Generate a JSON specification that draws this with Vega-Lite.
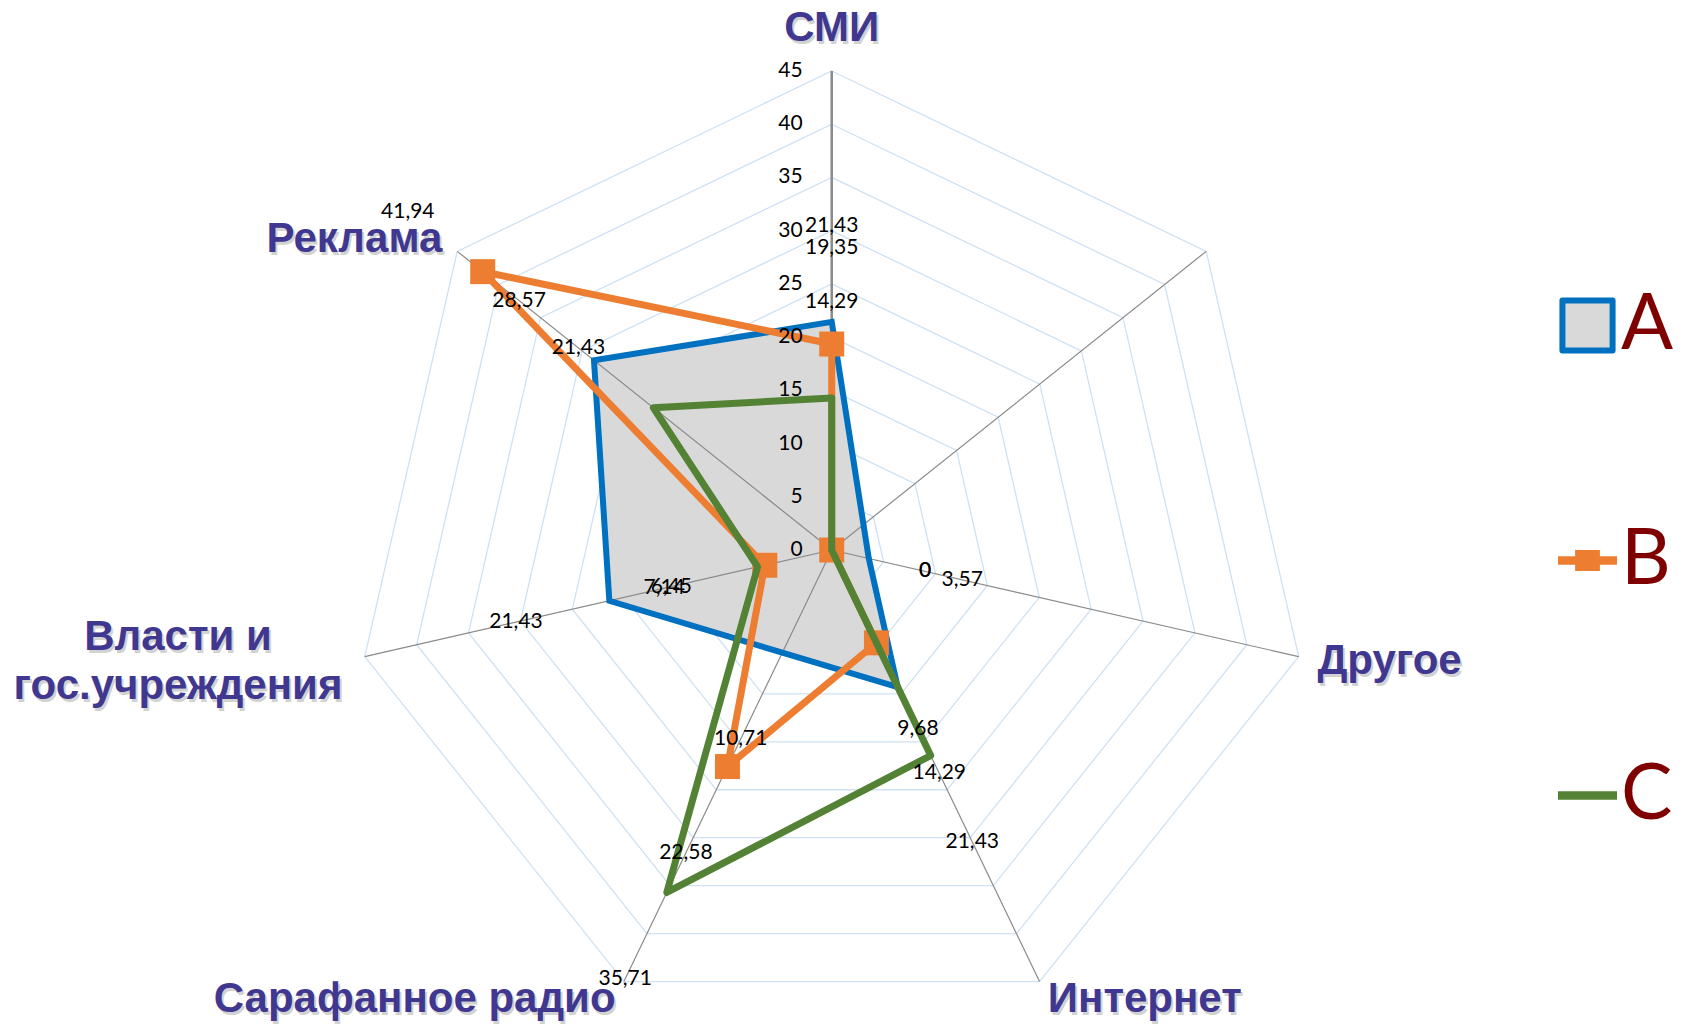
{
  "$schema": "https://vega.github.io/schema/vega-lite/v6.json",
  "width": 1684,
  "height": 1024,
  "autosize": "none",
  "padding": 0,
  "background": "white",
  "config": {"view": {"stroke": null}},
  "datasets": {
    "series": [
      {"series": "A", "category": "СМИ", "value": 21.43},
      {"series": "A", "category": "Другое", "value": 3.57},
      {"series": "A", "category": "Интернет", "value": 14.29},
      {"series": "A", "category": "Сарафанное радио", "value": 10.71},
      {"series": "A", "category": "Власти и гос.учреждения", "value": 21.43},
      {"series": "A", "category": "Реклама", "value": 28.57},
      {"series": "B", "category": "СМИ", "value": 19.35},
      {"series": "B", "category": "Другое", "value": 0},
      {"series": "B", "category": "Интернет", "value": 9.68},
      {"series": "B", "category": "Сарафанное радио", "value": 22.58},
      {"series": "B", "category": "Власти и гос.учреждения", "value": 6.45},
      {"series": "B", "category": "Реклама", "value": 41.94},
      {"series": "C", "category": "СМИ", "value": 14.29},
      {"series": "C", "category": "Другое", "value": 0},
      {"series": "C", "category": "Интернет", "value": 21.43},
      {"series": "C", "category": "Сарафанное радио", "value": 35.71},
      {"series": "C", "category": "Власти и гос.учреждения", "value": 7.14},
      {"series": "C", "category": "Реклама", "value": 21.43}
    ],
    "axes": [
      {"category": "СМИ", "levels": [5, 10, 15, 20, 25, 30, 35, 40, 45]},
      {"category": "", "levels": [5, 10, 15, 20, 25, 30, 35, 40, 45]},
      {"category": "Другое", "levels": [5, 10, 15, 20, 25, 30, 35, 40, 45]},
      {"category": "Интернет", "levels": [5, 10, 15, 20, 25, 30, 35, 40, 45]},
      {"category": "Сарафанное радио", "levels": [5, 10, 15, 20, 25, 30, 35, 40, 45]},
      {"category": "Власти и гос.учреждения", "levels": [5, 10, 15, 20, 25, 30, 35, 40, 45]},
      {"category": "Реклама", "levels": [5, 10, 15, 20, 25, 30, 35, 40, 45]}
    ],
    "ticks": [
      {"t": 0}, {"t": 5}, {"t": 10}, {"t": 15}, {"t": 20}, {"t": 25}, {"t": 30}, {"t": 35}, {"t": 40}, {"t": 45}
    ]
  },
  "encoding": {
    "x": {"field": "x", "type": "quantitative", "scale": {"domain": [-78.14, 80.07], "nice": false, "zero": false}, "axis": null},
    "y": {"field": "y", "type": "quantitative", "scale": {"domain": [-44.53, 51.67], "nice": false, "zero": false}, "axis": null}
  },
  "layer": [
    {
      "data": {"name": "axes"},
      "transform": [
        {"flatten": ["levels"], "as": ["level"]},
        {"calculate": "indexof(['СМИ','','Другое','Интернет','Сарафанное радио','Власти и гос.учреждения','Реклама'], datum.category)", "as": "idx"},
        {"calculate": "PI/2 - datum.idx*2*PI/7", "as": "ang"},
        {"calculate": "datum.level*cos(datum.ang)", "as": "x"},
        {"calculate": "datum.level*sin(datum.ang)", "as": "y"}
      ],
      "mark": {"type": "line", "interpolate": "linear-closed", "stroke": "#cfe1f2", "strokeWidth": 1.3},
      "encoding": {"detail": {"field": "level", "type": "nominal"}, "order": {"field": "idx", "type": "quantitative"}}
    },
    {
      "data": {"name": "series"},
      "transform": [
        {"filter": "datum.series === 'A'"},
        {"calculate": "indexof(['СМИ','','Другое','Интернет','Сарафанное радио','Власти и гос.учреждения','Реклама'], datum.category)", "as": "idx"},
        {"calculate": "PI/2 - datum.idx*2*PI/7", "as": "ang"},
        {"calculate": "datum.value*cos(datum.ang)", "as": "x"},
        {"calculate": "datum.value*sin(datum.ang)", "as": "y"}
      ],
      "mark": {"type": "line", "interpolate": "linear-closed", "fill": "#d9d9d9", "stroke": "#d9d9d9", "strokeWidth": 0, "strokeOpacity": 0},
      "encoding": {"order": {"field": "idx", "type": "quantitative"}}
    },
    {
      "data": {"name": "axes"},
      "transform": [
        {"calculate": "indexof(['СМИ','','Другое','Интернет','Сарафанное радио','Власти и гос.учреждения','Реклама'], datum.category)", "as": "idx"},
        {"calculate": "PI/2 - datum.idx*2*PI/7", "as": "ang"},
        {"calculate": "45*cos(datum.ang)", "as": "x"},
        {"calculate": "45*sin(datum.ang)", "as": "y"}
      ],
      "mark": {"type": "rule", "color": "#8a8a8a"},
      "encoding": {
        "x2": {"datum": 0},
        "y2": {"datum": 0},
        "strokeWidth": {"condition": {"test": "datum.category === 'СМИ'", "value": 2.5}, "value": 1.2}
      }
    },
    {
      "data": {"name": "series"},
      "transform": [
        {"filter": "datum.series === 'A'"},
        {"calculate": "indexof(['СМИ','','Другое','Интернет','Сарафанное радио','Власти и гос.учреждения','Реклама'], datum.category)", "as": "idx"},
        {"calculate": "PI/2 - datum.idx*2*PI/7", "as": "ang"},
        {"calculate": "datum.value*cos(datum.ang)", "as": "x"},
        {"calculate": "datum.value*sin(datum.ang)", "as": "y"}
      ],
      "mark": {"type": "line", "interpolate": "linear-closed", "strokeWidth": 6, "strokeJoin": "miter"},
      "encoding": {
        "order": {"field": "idx", "type": "quantitative"},
        "stroke": {
          "field": "series", "type": "nominal",
          "scale": {"domain": ["A", "B", "C"], "range": ["#0070c0", "#ed7d31", "#548235"]},
          "legend": {
            "title": null,
            "orient": "none",
            "legendX": 1549,
            "legendY": 287,
            "direction": "vertical",
            "padding": 0,
            "symbolSize": 3481,
            "symbolStrokeWidth": 6,
            "labelFontSize": 77,
            "labelFont": "Lato",
            "labelColor": "#7f0000",
            "labelOffset": -5,
            "rowPadding": 157,
            "encode": {
              "symbols": {
                "update": {
                  "shape": {"signal": "datum.value === 'A' ? 'M-0.85,-0.85H0.85V0.85H-0.85Z' : datum.value === 'B' ? 'M-1,-0.14H1V0.14H-1Z M-0.42,-0.36H0.42V0.36H-0.42Z' : 'M-1,-0.14H1V0.14H-1Z'"},
                  "fill": {"signal": "datum.value === 'A' ? '#d9d9d9' : datum.value === 'B' ? '#ed7d31' : '#548235'"},
                  "stroke": {"signal": "datum.value === 'A' ? '#0070c0' : 'transparent'"},
                  "strokeWidth": {"signal": "datum.value === 'A' ? 6 : 0"},
                  "strokeJoin": {"value": "round"},
                  "size": {"value": 3481},
                  "opacity": {"value": 1},
                  "fillOpacity": {"value": 1}
                }
              }
            }
          }
        }
      }
    },
    {
      "data": {"name": "series"},
      "transform": [
        {"filter": "datum.series === 'B'"},
        {"calculate": "indexof(['СМИ','','Другое','Интернет','Сарафанное радио','Власти и гос.учреждения','Реклама'], datum.category)", "as": "idx"},
        {"calculate": "PI/2 - datum.idx*2*PI/7", "as": "ang"},
        {"calculate": "datum.value*cos(datum.ang)", "as": "x"},
        {"calculate": "datum.value*sin(datum.ang)", "as": "y"}
      ],
      "mark": {"type": "line", "interpolate": "linear-closed", "strokeWidth": 7, "strokeJoin": "round"},
      "encoding": {
        "order": {"field": "idx", "type": "quantitative"},
        "stroke": {"field": "series", "type": "nominal"}
      }
    },
    {
      "data": {"name": "series"},
      "transform": [
        {"filter": "datum.series === 'B'"},
        {"calculate": "indexof(['СМИ','','Другое','Интернет','Сарафанное радио','Власти и гос.учреждения','Реклама'], datum.category)", "as": "idx"},
        {"calculate": "PI/2 - datum.idx*2*PI/7", "as": "ang"},
        {"calculate": "datum.value*cos(datum.ang)", "as": "x"},
        {"calculate": "datum.value*sin(datum.ang)", "as": "y"}
      ],
      "mark": {"type": "square", "size": 625, "color": "#ed7d31", "opacity": 1, "filled": true}
    },
    {
      "data": {"name": "series"},
      "transform": [
        {"filter": "datum.series === 'C'"},
        {"calculate": "indexof(['СМИ','','Другое','Интернет','Сарафанное радио','Власти и гос.учреждения','Реклама'], datum.category)", "as": "idx"},
        {"calculate": "PI/2 - datum.idx*2*PI/7", "as": "ang"},
        {"calculate": "datum.value*cos(datum.ang)", "as": "x"},
        {"calculate": "datum.value*sin(datum.ang)", "as": "y"}
      ],
      "mark": {"type": "line", "interpolate": "linear-closed", "strokeWidth": 7, "strokeJoin": "round"},
      "encoding": {
        "order": {"field": "idx", "type": "quantitative"},
        "stroke": {"field": "series", "type": "nominal"}
      }
    },
    {
      "data": {"name": "ticks"},
      "transform": [
        {"calculate": "0", "as": "x"},
        {"calculate": "datum.t", "as": "y"}
      ],
      "mark": {"type": "text", "align": "right", "baseline": "middle", "dx": -29, "font": "Lato", "fontSize": 21, "color": "#000000"},
      "encoding": {"text": {"field": "t", "type": "quantitative"}}
    },
    {
      "data": {"name": "series"},
      "transform": [
        {"calculate": "indexof(['СМИ','','Другое','Интернет','Сарафанное радио','Власти и гос.учреждения','Реклама'], datum.category)", "as": "idx"},
        {"calculate": "PI/2 - datum.idx*2*PI/7", "as": "ang"},
        {"calculate": "(datum.value + 9)*cos(datum.ang)", "as": "x"},
        {"calculate": "(datum.value + 9)*sin(datum.ang)", "as": "y"},
        {"calculate": "replace(toString(datum.value), '.', ',')", "as": "lab"}
      ],
      "mark": {"type": "text", "align": "center", "baseline": "middle", "font": "Lato", "fontSize": 21, "color": "#000000"},
      "encoding": {"text": {"field": "lab", "type": "nominal"}}
    },
    {
      "data": {"name": "axes"},
      "transform": [
        {"filter": "datum.category === 'Реклама' || datum.category === 'Сарафанное радио'"},
        {"calculate": "indexof(['СМИ','','Другое','Интернет','Сарафанное радио','Власти и гос.учреждения','Реклама'], datum.category)", "as": "idx"},
        {"calculate": "PI/2 - datum.idx*2*PI/7", "as": "ang"},
        {"calculate": "46.8*cos(datum.ang)", "as": "x"},
        {"calculate": "46.8*sin(datum.ang)", "as": "y"}
      ],
      "mark": {"type": "text", "align": "right", "baseline": "middle", "dx": 2, "dy": 3, "font": "Liberation Sans", "fontWeight": "bold", "fontSize": 42, "color": "#808080", "opacity": 0.35},
      "encoding": {"text": {"field": "category", "type": "nominal"}}
    },
    {
      "data": {"name": "axes"},
      "transform": [
        {"filter": "datum.category === 'Реклама' || datum.category === 'Сарафанное радио'"},
        {"calculate": "indexof(['СМИ','','Другое','Интернет','Сарафанное радио','Власти и гос.учреждения','Реклама'], datum.category)", "as": "idx"},
        {"calculate": "PI/2 - datum.idx*2*PI/7", "as": "ang"},
        {"calculate": "46.8*cos(datum.ang)", "as": "x"},
        {"calculate": "46.8*sin(datum.ang)", "as": "y"}
      ],
      "mark": {"type": "text", "align": "right", "baseline": "middle", "font": "Liberation Sans", "fontWeight": "bold", "fontSize": 42, "color": "#3f3790"},
      "encoding": {"text": {"field": "category", "type": "nominal"}}
    },
    {
      "data": {"name": "axes"},
      "transform": [
        {"filter": "datum.category === 'Другое' || datum.category === 'Интернет'"},
        {"calculate": "indexof(['СМИ','','Другое','Интернет','Сарафанное радио','Власти и гос.учреждения','Реклама'], datum.category)", "as": "idx"},
        {"calculate": "PI/2 - datum.idx*2*PI/7", "as": "ang"},
        {"calculate": "46.8*cos(datum.ang)", "as": "x"},
        {"calculate": "46.8*sin(datum.ang)", "as": "y"}
      ],
      "mark": {"type": "text", "align": "left", "baseline": "middle", "dx": 2, "dy": 3, "font": "Liberation Sans", "fontWeight": "bold", "fontSize": 42, "color": "#808080", "opacity": 0.35},
      "encoding": {"text": {"field": "category", "type": "nominal"}}
    },
    {
      "data": {"name": "axes"},
      "transform": [
        {"filter": "datum.category === 'Другое' || datum.category === 'Интернет'"},
        {"calculate": "indexof(['СМИ','','Другое','Интернет','Сарафанное радио','Власти и гос.учреждения','Реклама'], datum.category)", "as": "idx"},
        {"calculate": "PI/2 - datum.idx*2*PI/7", "as": "ang"},
        {"calculate": "46.8*cos(datum.ang)", "as": "x"},
        {"calculate": "46.8*sin(datum.ang)", "as": "y"}
      ],
      "mark": {"type": "text", "align": "left", "baseline": "middle", "font": "Liberation Sans", "fontWeight": "bold", "fontSize": 42, "color": "#3f3790"},
      "encoding": {"text": {"field": "category", "type": "nominal"}}
    },
    {
      "data": {"name": "axes"},
      "transform": [
        {"filter": "datum.category === 'СМИ'"},
        {"calculate": "indexof(['СМИ','','Другое','Интернет','Сарафанное радио','Власти и гос.учреждения','Реклама'], datum.category)", "as": "idx"},
        {"calculate": "PI/2 - datum.idx*2*PI/7", "as": "ang"},
        {"calculate": "47.8*cos(datum.ang)", "as": "x"},
        {"calculate": "47.8*sin(datum.ang)", "as": "y"}
      ],
      "mark": {"type": "text", "align": "center", "baseline": "alphabetic", "dx": 2, "dy": 3, "font": "Liberation Sans", "fontWeight": "bold", "fontSize": 42, "color": "#808080", "opacity": 0.35},
      "encoding": {"text": {"field": "category", "type": "nominal"}}
    },
    {
      "data": {"name": "axes"},
      "transform": [
        {"filter": "datum.category === 'СМИ'"},
        {"calculate": "indexof(['СМИ','','Другое','Интернет','Сарафанное радио','Власти и гос.учреждения','Реклама'], datum.category)", "as": "idx"},
        {"calculate": "PI/2 - datum.idx*2*PI/7", "as": "ang"},
        {"calculate": "47.8*cos(datum.ang)", "as": "x"},
        {"calculate": "47.8*sin(datum.ang)", "as": "y"}
      ],
      "mark": {"type": "text", "align": "center", "baseline": "alphabetic", "font": "Liberation Sans", "fontWeight": "bold", "fontSize": 42, "color": "#3f3790"},
      "encoding": {"text": {"field": "category", "type": "nominal"}}
    },
    {
      "data": {"name": "axes"},
      "transform": [
        {"filter": "datum.category === 'Власти и гос.учреждения'"},
        {"calculate": "indexof(['СМИ','','Другое','Интернет','Сарафанное радио','Власти и гос.учреждения','Реклама'], datum.category)", "as": "idx"},
        {"calculate": "PI/2 - datum.idx*2*PI/7", "as": "ang"},
        {"calculate": "47*cos(datum.ang)", "as": "x"},
        {"calculate": "47*sin(datum.ang)", "as": "y"},
        {"calculate": "replace(datum.category, 'и гос', 'и\\nгос')", "as": "lab"}
      ],
      "mark": {"type": "text", "align": "center", "baseline": "middle", "dx": -164, "dy": -21, "lineBreak": "\n", "lineHeight": 49, "font": "Liberation Sans", "fontWeight": "bold", "fontSize": 42, "color": "#808080", "opacity": 0.35},
      "encoding": {"text": {"field": "lab", "type": "nominal"}}
    },
    {
      "data": {"name": "axes"},
      "transform": [
        {"filter": "datum.category === 'Власти и гос.учреждения'"},
        {"calculate": "indexof(['СМИ','','Другое','Интернет','Сарафанное радио','Власти и гос.учреждения','Реклама'], datum.category)", "as": "idx"},
        {"calculate": "PI/2 - datum.idx*2*PI/7", "as": "ang"},
        {"calculate": "47*cos(datum.ang)", "as": "x"},
        {"calculate": "47*sin(datum.ang)", "as": "y"},
        {"calculate": "replace(datum.category, 'и гос', 'и\\nгос')", "as": "lab"}
      ],
      "mark": {"type": "text", "align": "center", "baseline": "middle", "dx": -166, "dy": -24, "lineBreak": "\n", "lineHeight": 49, "font": "Liberation Sans", "fontWeight": "bold", "fontSize": 42, "color": "#3f3790"},
      "encoding": {"text": {"field": "lab", "type": "nominal"}}
    }
  ]
}
